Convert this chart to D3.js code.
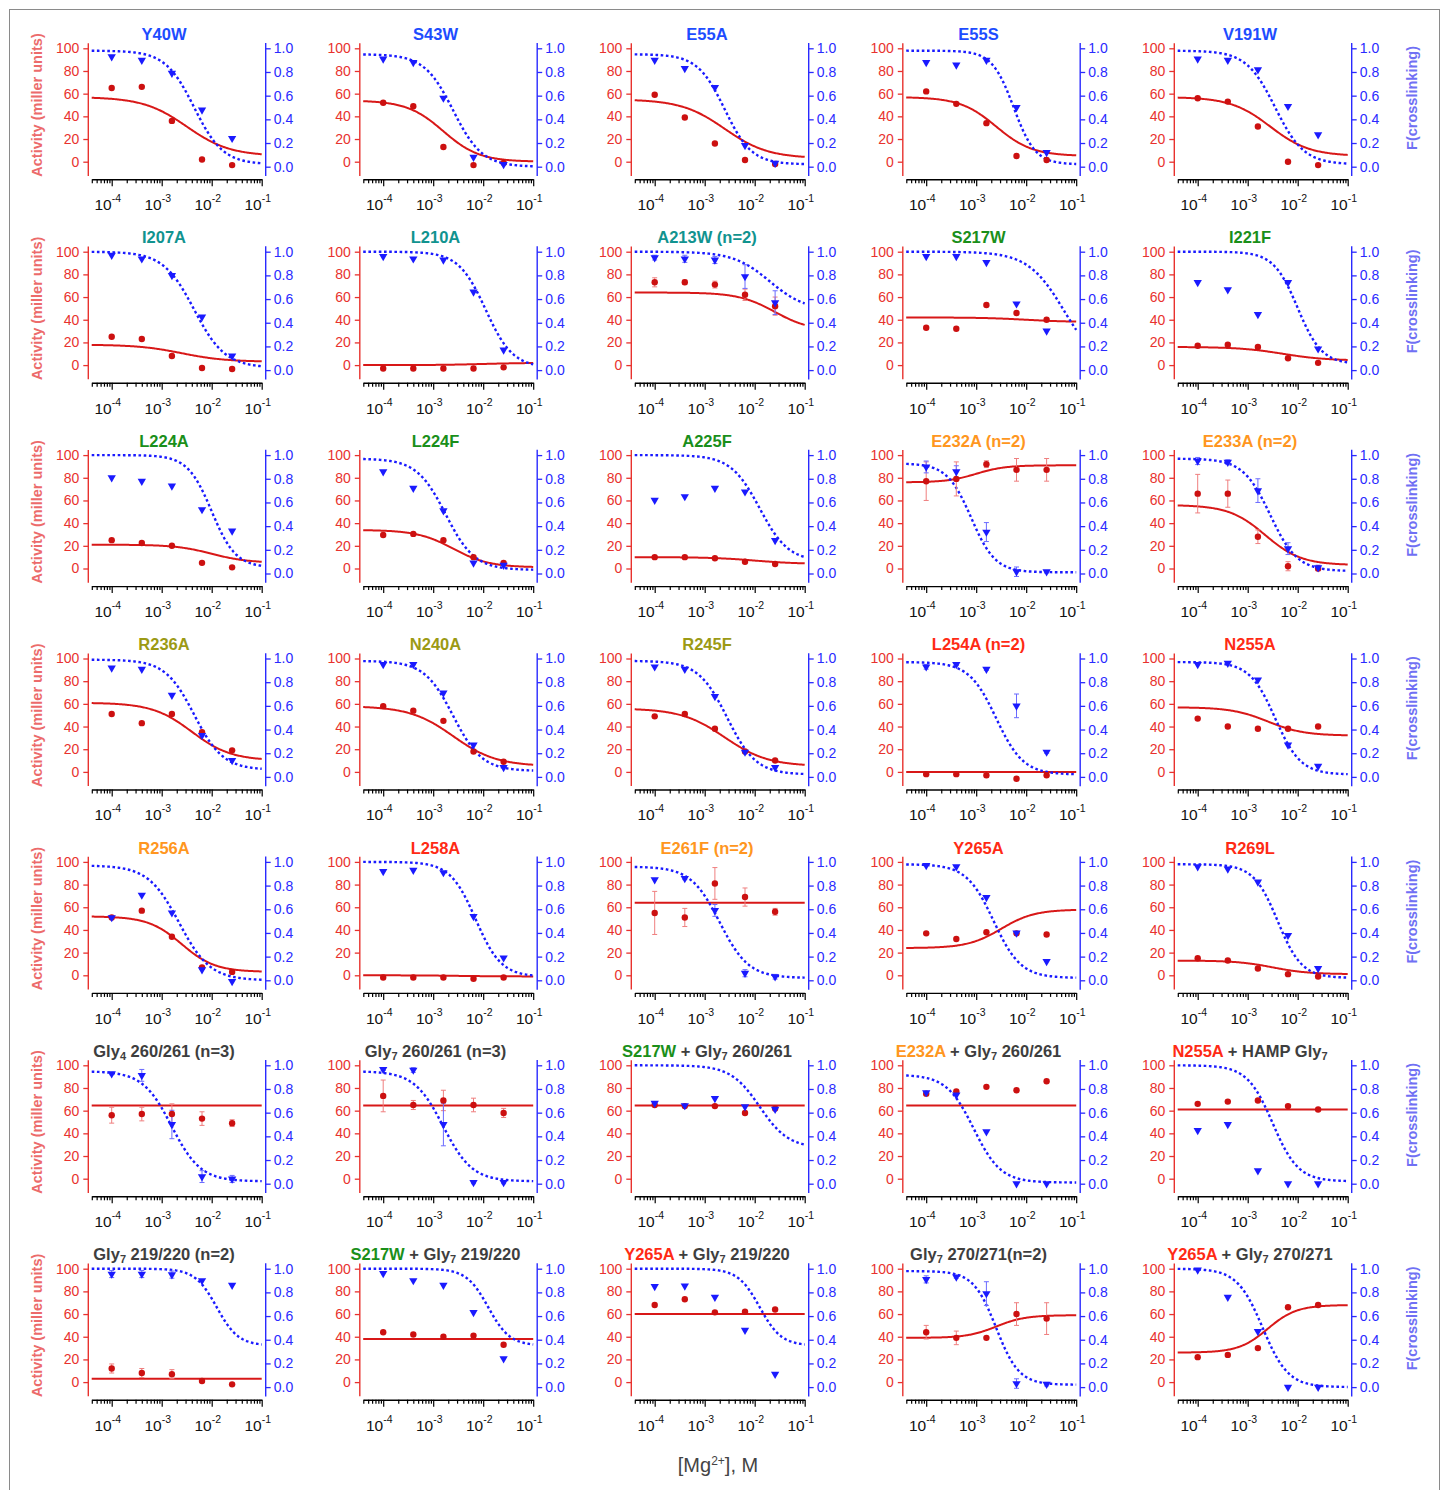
<!DOCTYPE html>
<html>
<head>
<meta charset="utf-8">
<script src="https://cdn.jsdelivr.net/npm/d3@7"></script>
<style>
  body { margin: 0; background: #fff; }
  svg { display: block; font-family: "Liberation Sans", Arial, Helvetica, sans-serif; }
</style>
</head>
<body>
<div id="chart"></div>
<script>
// Mg2+ titration, 4-fold steps
var conc = [1e-4, 4e-4, 1.6e-3, 6.4e-3, 2.56e-2];

var actTicks = [0, 20, 40, 60, 80, 100];
var xlTicks = [0, 0.2, 0.4, 0.6, 0.8, 1.0];
var decades = [-4, -3, -2, -1];

// "|" splits coloured prefix from grey rest, "_n" is a subscript
var titles = [
  "Y40W", "S43W", "E55A", "E55S", "V191W",
  "I207A", "L210A", "A213W (n=2)", "S217W", "I221F",
  "L224A", "L224F", "A225F", "E232A (n=2)", "E233A (n=2)",
  "R236A", "N240A", "R245F", "L254A (n=2)", "N255A",
  "R256A", "L258A", "E261F (n=2)", "Y265A", "R269L",
  "Gly_4 260/261 (n=3)", "Gly_7 260/261 (n=3)", "S217W| + Gly_7 260/261", "E232A| + Gly_7 260/261", "N255A| + HAMP Gly_7",
  "Gly_7 219/220 (n=2)", "S217W| + Gly_7 219/220", "Y265A| + Gly_7 219/220", "Gly_7 270/271(n=2)", "Y265A| + Gly_7 270/271"
];

var titleGroup = [
  "blue", "blue", "blue", "blue", "blue",
  "teal", "teal", "teal", "green", "green",
  "green", "green", "green", "orange", "orange",
  "olive", "olive", "olive", "red", "red",
  "orange", "red", "orange", "red", "red",
  "gray", "gray", "green", "orange", "red",
  "gray", "green", "red", "gray", "red"
];

// activity, miller units
var activity = [
  [65, 66, 36, 2, -3], [52, 49, 13, -3, -1], [59, 39, 16, 1.5, -2], [62, 51, 34, 5, 1.5], [56, 53, 31, 0, -3],
  [25, 23, 8, -2.5, -3.5], [-3, -3, -3, -3, -2], [73, 73, 71, 62, 52], [33, 32, 53, 46, 40], [17, 18, 16, 6, 2],
  [25, 22.5, 20, 5, 1], [29.5, 30.5, 25, 10, 5], [10, 10, 9, 6, 4], [77, 79, 92, 87, 87], [66, 66, 28, 2, 0],
  [51, 43, 51, 35, 19], [58, 54, 45, 18, 9], [49, 51, 38, 18, 10], [-2, -2, -3, -6, -3], [47, 40, 38, 38, 40],
  [51, 57, 34, 7, 3], [-2, -2, -2, -3, -2], [55, 51, 81, 69, 56], [37, 32, 38, 37, 36], [15, 13, 6, 1, -1],
  [56, 57, 57, 53, 49], [73, 65, 69, 65, 58], [65, 64, 64, 58, 62], [75, 77, 81, 78, 86], [66, 68, 69, 64, 61],
  [12, 8, 7, 1, -2], [44, 42, 40, 41, 33], [68, 73, 61.5, 62, 64], [44, 39, 39, 60, 56], [22, 24, 30, 66, 68]
];

var activityErr = [
  null, null, null, null, null,
  null, null, [4, 2, 3, 5, 8], null, null,
  null, null, null, [17, 15, 3, 10, 10], [17, 12, 6, 4, 2],
  null, null, null, [1, 1, 2, 1, 1], null,
  null, null, [19, 8, 14, 8, 3], null, null,
  [7, 6, 9, 6, 3], [14, 4, 9, 6, 4], null, null, null,
  [4, 4, 4, 1, 1], null, null, [6, 6, 0, 10, 14], null
];

// fraction crosslinked
var crosslink = [
  [0.93, 0.90, 0.79, 0.48, 0.24], [0.91, 0.88, 0.58, 0.08, 0.02], [0.90, 0.83, 0.67, 0.18, 0.03], [0.88, 0.86, 0.90, 0.50, 0.12], [0.91, 0.90, 0.82, 0.51, 0.27],
  [0.97, 0.94, 0.80, 0.45, 0.12], [0.96, 0.94, 0.93, 0.66, 0.17], [0.95, 0.94, 0.93, 0.79, 0.57], [0.96, 0.96, 0.91, 0.56, 0.33], [0.74, 0.68, 0.47, 0.74, 0.18],
  [0.81, 0.78, 0.74, 0.54, 0.36], [0.86, 0.72, 0.53, 0.09, 0.07], [0.62, 0.65, 0.72, 0.69, 0.28], [0.90, 0.86, 0.35, 0.015, 0.015], [0.95, 0.94, 0.70, 0.21, 0.05],
  [0.92, 0.91, 0.69, 0.35, 0.14], [0.95, 0.95, 0.71, 0.27, 0.08], [0.93, 0.91, 0.68, 0.21, 0.08], [0.93, 0.95, 0.91, 0.60, 0.21], [0.95, 0.96, 0.82, 0.27, 0.09],
  [0.53, 0.72, 0.57, 0.09, -0.01], [0.92, 0.93, 0.91, 0.54, 0.19], [0.85, 0.86, 0.59, 0.06, 0.03], [0.97, 0.96, 0.70, 0.40, 0.16], [0.96, 0.94, 0.83, 0.38, 0.10],
  [0.93, 0.915, 0.50, 0.06, 0.04], [0.966, 0.96, 0.50, 0.01, 0.01], [0.68, 0.66, 0.72, 0.65, 0.63], [0.77, 0.75, 0.44, 0.0, 0.0], [0.45, 0.50, 0.11, 0.0, 0.0],
  [0.955, 0.955, 0.95, 0.90, 0.86], [0.96, 0.90, 0.86, 0.63, 0.24], [0.85, 0.855, 0.76, 0.48, 0.11], [0.91, 0.93, 0.79, 0.03, 0.025], [0.99, 0.76, 0.47, 0.0, 0.0]
];

var crosslinkErr = [
  null, null, null, null, null,
  null, null, [0.02, 0.03, 0.03, 0.1, 0.1], null, null,
  null, null, null, [0.05, 0.05, 0.08, 0.04, 0.01], [0.03, 0.02, 0.1, 0.05, 0.02],
  null, null, null, [0.02, 0.01, 0.01, 0.1, 0.01], null,
  null, null, [0, 0.01, 0.05, 0.03, 0.02], null, null,
  [0.01, 0.05, 0.12, 0.05, 0.03], [0.01, 0.02, 0.18, 0.01, 0.01], null, null, null,
  [0.03, 0.03, 0.03, 0, 0], null, null, [0.03, 0.01, 0.1, 0.04, 0.015], null
];

// Hill fits: [low-Mg plateau, high-Mg plateau, log10 midpoint, slope]
var activityFit = [
  [57, 5, -2.5, 1.0], [54, 0, -2.8, 1.2], [55, 3, -2.6, 1.0], [57, 5, -2.6, 1.2], [57, 5, -2.55, 1.1],
  [18, 3, -2.6, 1.0], [0, 2, -2, 1], [64, 30, -1.6, 1.2], [42, 38, -2, 1], [16, 4, -2.3, 1],
  [21, 5, -2.0, 1.2], [34, 1, -2.6, 1.2], [10, 4, -2, 1], [76, 91, -3.0, 1.5], [56, 3, -2.65, 1.2],
  [61, 10, -2.4, 1.1], [58, 5, -2.6, 1.0], [56, 5, -2.6, 1.0], [0, 0, -2.5, 1], [57, 32, -2.6, 1.2],
  [52, 3, -2.6, 1.3], [0, -1, -2.5, 1], [64, 64, -2.5, 1], [24, 58, -2.5, 1.3], [13, 1, -2.5, 1.2],
  [64.5, 64.5, -2.5, 1], [64.5, 64.5, -2.5, 1], [64.5, 64.5, -2.5, 1], [64.5, 64.5, -2.5, 1], [61, 61, -2.5, 1],
  [3, 3, -2.5, 1], [38, 38, -2.5, 1], [60, 60, -2.5, 1], [39, 59, -2.6, 1.5], [26, 68, -2.6, 1.5]
];

var crosslinkFit = [
  [0.98, 0.02, -2.35, 1.5], [0.95, 0.0, -2.6, 1.5], [0.95, 0.02, -2.6, 1.6], [0.98, 0.02, -2.25, 2.0], [0.98, 0.02, -2.45, 1.5],
  [1.0, 0.02, -2.35, 1.4], [1.0, 0.02, -1.95, 1.6], [1.0, 0.5, -1.7, 1.2], [1.0, 0.0, -1.24, 1.2], [1.0, 0.05, -2.0, 1.8],
  [1.0, 0.05, -2.0, 1.8], [0.97, 0.03, -2.75, 1.5], [1.0, 0.1, -1.9, 1.5], [0.93, 0.01, -3.1, 1.8], [0.97, 0.02, -2.55, 1.6],
  [0.99, 0.06, -2.35, 1.5], [0.98, 0.05, -2.6, 1.5], [0.98, 0.02, -2.55, 1.5], [0.97, 0.02, -2.6, 1.6], [0.97, 0.02, -2.45, 1.7],
  [0.97, 0.0, -2.65, 1.4], [1.0, 0.03, -2.15, 1.7], [0.96, 0.02, -2.7, 1.5], [0.98, 0.02, -2.65, 1.6], [0.98, 0.02, -2.4, 1.8],
  [0.95, 0.02, -2.8, 1.5], [0.95, 0.02, -2.8, 1.5], [1.0, 0.3, -1.9, 1.5], [0.92, 0.01, -3.05, 1.6], [1.0, 0.02, -2.5, 1.7],
  [1.0, 0.35, -1.9, 2], [1.0, 0.35, -1.9, 2], [1.0, 0.35, -1.9, 2], [0.98, 0.02, -2.6, 1.9], [1.0, 0.0, -2.7, 1.7]
];

var groupColors = {
  blue: "#1d4cff", teal: "#11938f", green: "#1a8f1a", orange: "#ff9620",
  olive: "#9c9a14", red: "#ff2a14", gray: "#3e3e3e"
};

var RED_AX = "#e8322e", RED_LINE = "#d81818", RED_DOT = "#cc1010", RED_ERR = "#ef7f7f";
var BLUE_AX = "#2a2aff", BLUE_LINE = "#1a1aff", BLUE_ERR = "#6b6bff";

var width = 1448, height = 1490;
var pitchX = 271.5, pitchY = 203.4;
var axisL = 88.3, axisR = 265.7, axisB = 179.3;

var svg = d3.select('#chart').append('svg')
  .attr('width', width)
  .attr('height', height);

svg.append('rect')
  .attr('x', 9.5).attr('y', 9.5)
  .attr('width', 1430).attr('height', 1500)
  .attr('fill', 'none').attr('stroke', '#8a8a8a');

var x = d3.scaleLog().domain([Math.pow(10, -4.4), 0.1]).range([91.7, 261.7]);
var yA = d3.scaleLinear().domain([0, 100]).range([161.7, 48.3]);
var yX = d3.scaleLinear().domain([0, 1]).range([166.7, 48.3]);

var xTicks = [];
[-5, -4, -3, -2].forEach(function(e) {
  for (var k = 1; k <= 9; k++) {
    var v = k * Math.pow(10, e);
    if (v >= x.domain()[0] * 0.999 && v <= 0.1001) xTicks.push(v);
  }
});
xTicks.push(0.1);
function isMajor(v) {
  var l = Math.log10(v);
  return Math.abs(l - Math.round(l)) < 1e-6;
}

// sample points for the fitted curves
var logGrid = d3.range(0, 171).map(function(j) { return -4.4 + j * 0.02; });
function hill(p, lx) {
  return p[1] + (p[0] - p[1]) / (1 + Math.pow(10, (lx - p[2]) * p[3]));
}

function translate(a, b) { return 'translate(' + a + ',' + b + ')'; }

function richText(sel, str, color, subSize) {
  var parts = str.split(/_(\d)/);
  var wasSub = false;
  parts.forEach(function(p, i) {
    if (!p) return;
    var sub = i % 2 === 1;
    var t = sel.append('tspan').attr('fill', color).text(p);
    if (sub) { t.attr('font-size', subSize).attr('dy', 3); wasSub = true; }
    else if (wasSub) { t.attr('dy', -3); wasSub = false; }
  });
}

titles.forEach(function(title, i) {
  var r = Math.floor(i / 5), c = i % 5;
  var g = svg.append('g').attr('transform', translate(c * pitchX, r * pitchY));

  // title
  var tt = g.append('text')
    .attr('x', 164).attr('y', 40)
    .attr('text-anchor', 'middle')
    .attr('font-weight', 'bold')
    .attr('font-size', 16.5);
  var bits = title.split('|');
  if (bits.length > 1) {
    richText(tt, bits[0], groupColors[titleGroup[i]], 11);
    richText(tt, bits[1], groupColors.gray, 11);
  } else {
    richText(tt, title, groupColors[titleGroup[i]], 11);
  }

  // left (activity) axis
  g.append('line')
    .attr('x1', axisL).attr('x2', axisL)
    .attr('y1', yA(104.5)).attr('y2', yA(-12.5))
    .attr('stroke', RED_AX).attr('stroke-width', 1.4);
  var ga = g.append('g')
    .attr('transform', translate(axisL, 0))
    .call(d3.axisLeft(yA).tickValues(actTicks).tickSize(5).tickPadding(4));
  ga.attr('font-family', null).attr('font-size', null);
  ga.select('.domain').remove();
  ga.selectAll('line').attr('stroke', RED_AX).attr('stroke-width', 1.3);
  ga.selectAll('text').attr('fill', RED_AX).style('font-size', '14px');

  // right (crosslinking) axis
  g.append('line')
    .attr('x1', axisR).attr('x2', axisR)
    .attr('y1', yX(1.045)).attr('y2', yX(-0.079))
    .attr('stroke', BLUE_AX).attr('stroke-width', 1.4);
  var gb = g.append('g')
    .attr('transform', translate(axisR, 0))
    .call(d3.axisRight(yX).tickValues(xlTicks).tickFormat(d3.format('.1f')).tickSize(5).tickPadding(3));
  gb.attr('font-family', null).attr('font-size', null);
  gb.select('.domain').remove();
  gb.selectAll('line').attr('stroke', BLUE_AX).attr('stroke-width', 1.3);
  gb.selectAll('text').attr('fill', BLUE_AX).style('font-size', '14px');

  // bottom log axis
  var gx = g.append('g')
    .attr('transform', translate(0, axisB))
    .call(d3.axisBottom(x).tickValues(xTicks).tickFormat(function() { return ''; }).tickSizeOuter(0));
  gx.select('.domain').attr('stroke', '#000').attr('stroke-width', 1.4);
  gx.selectAll('.tick line')
    .attr('stroke', '#000').attr('stroke-width', 1.2)
    .attr('y2', function(d) { return isMajor(d) ? 7 : 4; });
  decades.forEach(function(e) {
    var lab = g.append('text')
      .attr('x', x(Math.pow(10, e)) - 4)
      .attr('y', axisB + 31)
      .attr('text-anchor', 'middle')
      .attr('font-size', 15.5)
      .attr('fill', '#111');
    lab.append('tspan').text('10');
    lab.append('tspan').attr('font-size', 10.5).attr('dy', -8).text(String(e));
  });

  // fitted curves
  var redLine = d3.line()
    .x(function(d) { return x(Math.pow(10, d)); })
    .y(function(d) { return yA(hill(activityFit[i], d)); });
  var blueLine = d3.line()
    .x(function(d) { return x(Math.pow(10, d)); })
    .y(function(d) { return yX(hill(crosslinkFit[i], d)); });

  g.append('path').datum(logGrid)
    .attr('d', redLine)
    .attr('fill', 'none').attr('stroke', RED_LINE).attr('stroke-width', 2);
  g.append('path').datum(logGrid)
    .attr('d', blueLine)
    .attr('fill', 'none').attr('stroke', BLUE_LINE).attr('stroke-width', 2.4)
    .attr('stroke-dasharray', '2.6,2.6');

  // error bars
  function errBars(vals, errs, yS, color) {
    if (!errs) return;
    vals.forEach(function(v, k) {
      var e = errs[k];
      if (!e) return;
      var cx = x(conc[k]);
      g.append('line').attr('x1', cx).attr('x2', cx)
        .attr('y1', yS(v - e)).attr('y2', yS(v + e))
        .attr('stroke', color).attr('stroke-width', 1);
      [v - e, v + e].forEach(function(w) {
        g.append('line').attr('x1', cx - 2.5).attr('x2', cx + 2.5)
          .attr('y1', yS(w)).attr('y2', yS(w))
          .attr('stroke', color).attr('stroke-width', 1);
      });
    });
  }
  errBars(activity[i], activityErr[i], yA, RED_ERR);
  errBars(crosslink[i], crosslinkErr[i], yX, BLUE_ERR);

  // points
  g.selectAll('.act')
    .data(activity[i]).enter().append('circle')
    .attr('class', 'act')
    .attr('cx', function(d, k) { return x(conc[k]); })
    .attr('cy', function(d) { return yA(d); })
    .attr('r', 3.2)
    .attr('fill', RED_DOT);

  var tri = d3.symbol().type(d3.symbolTriangle).size(30);
  g.selectAll('.xl')
    .data(crosslink[i]).enter().append('path')
    .attr('class', 'xl')
    .attr('d', tri)
    .attr('transform', function(d, k) { return translate(x(conc[k]), yX(d)) + ' rotate(180)'; })
    .attr('fill', BLUE_LINE);

  // side titles
  if (c === 0) {
    g.append('text')
      .attr('transform', translate(37, 105) + ' rotate(-90)')
      .attr('text-anchor', 'middle')
      .attr('dominant-baseline', 'central')
      .attr('font-weight', 'bold')
      .attr('font-size', 14.5)
      .attr('fill', '#ec6b6b')
      .text('Activity (miller units)');
  }
  if (c === 4) {
    g.append('text')
      .attr('transform', translate(326, 98) + ' rotate(-90)')
      .attr('text-anchor', 'middle')
      .attr('dominant-baseline', 'central')
      .attr('font-weight', 'bold')
      .attr('font-size', 14.5)
      .attr('fill', '#7070f4')
      .text('F(crosslinking)');
  }
});

var xl = svg.append('text')
  .attr('x', 718).attr('y', 1472)
  .attr('text-anchor', 'middle')
  .attr('font-size', 20)
  .attr('fill', '#444');
xl.append('tspan').text('[Mg');
xl.append('tspan').attr('font-size', 12).attr('dy', -7).text('2+');
xl.append('tspan').attr('dy', 7).text('], M');
</script>
</body>
</html>
